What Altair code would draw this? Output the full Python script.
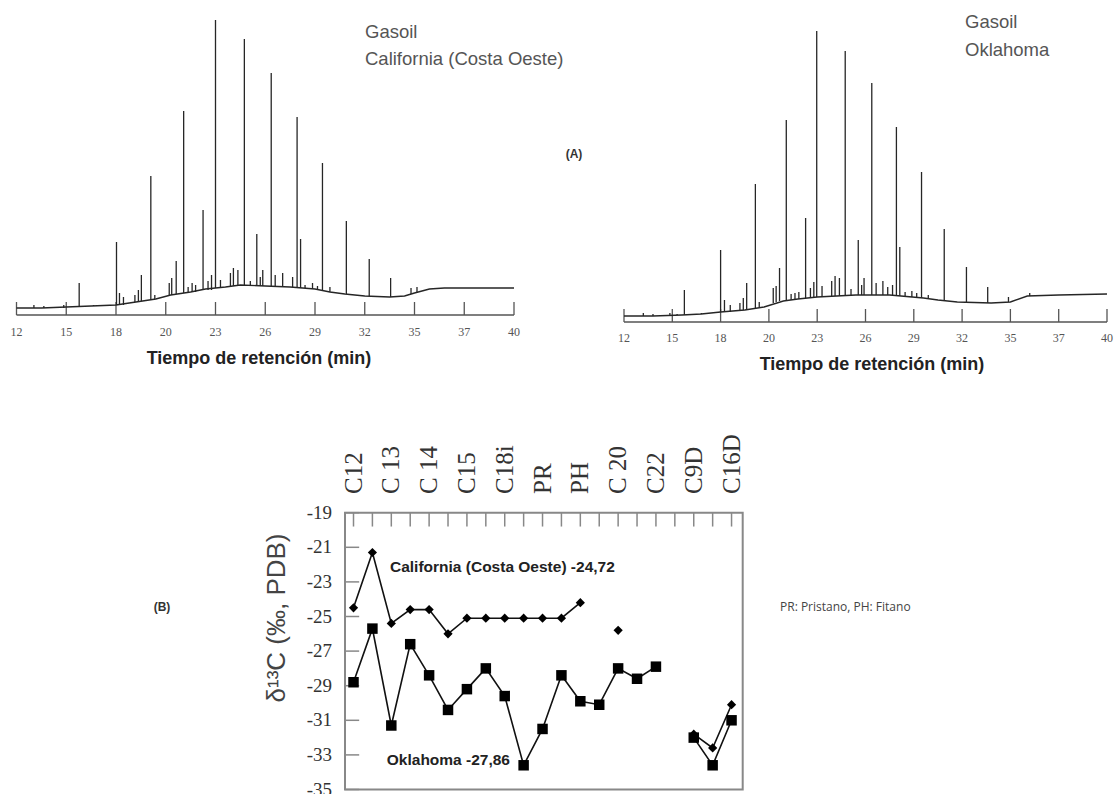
import altair as alt
import pandas as pd

W, H = 1116, 794

# ---------------- (A) chromatograms ----------------
rt_labels = ["12", "15", "18", "20", "23", "26", "29", "32", "35", "37", "40"]
rt_pos = [0, 1, 2, 3, 4, 5, 6, 7, 8, 9, 10]   # printed ticks are evenly spaced

# California gasoil: peak position (tick units), apex and foot (relative intensity)
ca_peak_pos = [0.35, 0.55, 0.95, 1.15, 1.26, 1.55, 2.01, 2.07, 2.15, 2.38, 2.45, 2.51, 2.70, 2.78,
               3.07, 3.12, 3.21, 3.36, 3.45, 3.53, 3.60, 3.75, 3.85, 3.92, 4.00, 4.10, 4.30, 4.36,
               4.45, 4.58, 4.70, 4.83, 4.90, 4.95, 5.12, 5.20, 5.35, 5.44, 5.55, 5.64, 5.71, 5.80,
               5.95, 6.05, 6.15, 6.30, 6.63, 7.09, 7.52, 7.93, 8.05]
ca_peak_top = [10, 9, 10, 9, 32, 10, 73, 22, 18, 20, 25, 40, 139, 20,
               32, 37, 54, 204, 28, 32, 30, 105, 34, 40, 295, 35, 42, 47,
               45, 276, 34, 81, 38, 45, 242, 40, 42, 28, 38, 198, 76, 30,
               32, 29, 152, 28, 94, 56, 37, 27, 28]
ca_peak_foot = [7, 7, 7, 8, 8, 9, 10, 10, 10, 13, 13, 14, 16, 16,
                20, 20, 21, 22, 22, 23, 23, 25, 25, 25, 27, 27, 28, 29,
                29, 30, 30, 29, 29, 29, 29, 29, 28, 28, 28, 27, 27, 27,
                26, 25, 25, 23, 21, 19, 18, 21, 22]
ca_base_pos = [0, 0.5, 1.0, 1.5, 2.0, 2.4, 2.8, 3.1, 3.5, 3.8, 4.2, 4.5, 5.0, 5.5, 6.0, 6.3, 6.6,
               7.0, 7.5, 7.8, 8.0, 8.3, 8.6, 9.0, 9.5, 10.0]
ca_base_val = [7, 7, 8, 9, 10, 13, 16, 20, 23, 26, 28, 30, 29, 28, 26, 23, 21,
               19, 18, 19, 22, 26, 27, 27, 27, 27]

# Oklahoma gasoil
ok_peak_pos = [0.4, 0.6, 0.95, 1.1, 1.25, 1.6, 2.0, 2.08, 2.2, 2.4, 2.47, 2.54, 2.72, 2.8,
               3.09, 3.15, 3.22, 3.36, 3.46, 3.54, 3.62, 3.76, 3.86, 3.93, 3.99, 4.1, 4.3, 4.37,
               4.46, 4.58, 4.7, 4.85, 4.92, 4.97, 5.13, 5.22, 5.36, 5.46, 5.56, 5.64, 5.71, 5.82,
               5.96, 6.06, 6.16, 6.3, 6.63, 7.09, 7.53, 7.96, 8.4]
ok_peak_top = [9, 8, 9, 8, 32, 9, 72, 22, 17, 19, 24, 39, 138, 20,
               34, 36, 54, 202, 28, 29, 30, 104, 34, 40, 291, 36, 41, 46,
               44, 271, 33, 82, 37, 44, 239, 39, 41, 35, 37, 195, 75, 30,
               31, 29, 150, 27, 93, 55, 35, 25, 29]
ok_peak_foot = [6, 6, 6, 7, 7, 8, 10, 10, 10, 12, 12, 12, 14, 15,
                19, 20, 21, 22, 22, 23, 23, 24, 24, 25, 25, 25, 26, 26,
                26, 27, 27, 27, 27, 27, 27, 27, 27, 27, 27, 26, 26, 26,
                25, 25, 24, 23, 22, 20, 19, 20, 26]
ok_base_pos = [0, 0.6, 1.2, 1.6, 2.0, 2.5, 2.9, 3.3, 3.6, 4.0, 4.8, 5.5, 6.2, 6.5, 6.9, 7.6,
               8.0, 8.35, 9.0, 10.0]
ok_base_val = [6, 6, 7, 8, 10, 12, 15, 21, 23, 25, 27, 27, 24, 22, 20, 19,
               20, 26, 27, 28]

# ---------------- (B) isotope profile ----------------
comp_labels = ["C12", "C 13", "C 14", "C15", "C18i", "PR", "PH", "C 20", "C22", "C9D", "C16D"]
comp_label_pos = [0, 2, 4, 6, 8, 10, 12, 14, 16, 18, 20]
comp_tick_pos = list(range(21))
d13c_ticks = [-19, -21, -23, -25, -27, -29, -31, -33, -35]
d13c_tick_labels = ["-19", "-21", "-23", "-25", "-27", "-29", "-31", "-33", "-35"]

ca_pos = [0, 1, 2, 3, 4, 5, 6, 7, 8, 9, 10, 11, 12, 14, 18, 19, 20]
ca_d13c = [-24.5, -21.3, -25.4, -24.6, -24.6, -26.0, -25.1, -25.1, -25.1, -25.1, -25.1, -25.1,
           -24.2, -25.8, -31.8, -32.6, -30.1]
ca_seg = [1] * 13 + [2] + [3] * 3

ok_pos = [0, 1, 2, 3, 4, 5, 6, 7, 8, 9, 10, 11, 12, 13, 14, 15, 16, 18, 19, 20]
ok_d13c = [-28.8, -25.7, -31.3, -26.6, -28.4, -30.4, -29.2, -28.0, -29.6, -33.6, -31.5, -28.4,
           -29.9, -30.1, -28.0, -28.6, -27.9, -32.0, -33.6, -31.0]
ok_seg = [1] * 17 + [2] * 3

SANS = "Liberation Sans"
SERIF = "Liberation Serif"
INK = "#262626"


def sc(domain, rng):
    return alt.Scale(domain=domain, range=rng, nice=False, zero=False)


def text_layer(txt, x, y, **mk):
    return alt.Chart(pd.DataFrame({"t": [txt]})).mark_text(**mk).encode(
        x=alt.value(x), y=alt.value(y), text="t:N")


def chromatogram(peak_pos, peak_top, peak_foot, base_pos, base_val, xr, yr, label_y):
    X = sc([0, 10], xr)
    Y = sc([0, 300], yr)
    peaks = pd.DataFrame({"pos": peak_pos, "top": peak_top, "foot": peak_foot})
    base = pd.DataFrame({"pos": base_pos, "val": base_val})
    ticks = pd.DataFrame({"pos": rt_pos, "lab": rt_labels})
    axis_df = pd.DataFrame({"a": [min(rt_pos)], "b": [max(rt_pos)]})
    layers = [
        alt.Chart(axis_df).mark_rule(color="#555", strokeWidth=1.3).encode(
            x=alt.X("a:Q", scale=X, axis=None), x2="b:Q",
            y=alt.Y(datum=0, scale=Y, axis=None)),
        alt.Chart(ticks).mark_rule(color="#555", strokeWidth=1.3).encode(
            x=alt.X("pos:Q", scale=X, axis=None),
            y=alt.Y(datum=0, scale=Y, axis=None), y2=alt.Y2(datum=13)),
        alt.Chart(ticks).mark_text(font=SERIF, fontSize=12, color="#555").encode(
            x=alt.X("pos:Q", scale=X, axis=None), y=alt.value(label_y), text="lab:N"),
        alt.Chart(base).mark_line(color=INK, strokeWidth=1.4).encode(
            x=alt.X("pos:Q", scale=X, axis=None), y=alt.Y("val:Q", scale=Y, axis=None)),
        alt.Chart(peaks).mark_rule(color=INK, strokeWidth=1.3).encode(
            x=alt.X("pos:Q", scale=X, axis=None),
            y=alt.Y("top:Q", scale=Y, axis=None), y2="foot:Q"),
    ]
    return layers


layers = []
layers += chromatogram(ca_peak_pos, ca_peak_top, ca_peak_foot, ca_base_pos, ca_base_val,
                       [16.5, 514], [315, 15], 332)
layers += chromatogram(ok_peak_pos, ok_peak_top, ok_peak_foot, ok_base_pos, ok_base_val,
                       [624, 1107], [322, 22], 338)

layers += [
    text_layer("Gasoil", 365, 32, font=SANS, fontSize=18.5, color="#555", align="left", baseline="middle"),
    text_layer("California (Costa Oeste)", 365, 59, font=SANS, fontSize=18.5, color="#555", align="left", baseline="middle"),
    text_layer("Gasoil", 965, 22, font=SANS, fontSize=18.5, color="#555", align="left", baseline="middle"),
    text_layer("Oklahoma", 965, 50, font=SANS, fontSize=18.5, color="#555", align="left", baseline="middle"),
    text_layer("Tiempo de retención (min)", 259, 359, font=SANS, fontSize=18, fontWeight="bold", color="#222", baseline="middle"),
    text_layer("Tiempo de retención (min)", 872, 365, font=SANS, fontSize=18, fontWeight="bold", color="#222", baseline="middle"),
    text_layer("(A)", 574, 154, font=SANS, fontSize=12, fontWeight="bold", color="#333", baseline="middle"),
    text_layer("(B)", 162, 607, font=SANS, fontSize=12, fontWeight="bold", color="#333", baseline="middle"),
    text_layer("PR: Pristano, PH: Fitano", 780, 607, font="Open Sans", fontSize=12, color="#444", align="left", baseline="middle"),
    text_layer("δ¹³C (‰, PDB)", 277, 618, font=SANS, fontSize=26, color="#444", angle=270, baseline="middle"),
]

# ---- panel (B)
BXD = [-0.45, 20.59]
BYD = [-35, -19]
BX = sc(BXD, [345, 742.7])
BY = sc(BYD, [789.5, 512.7])
one = pd.DataFrame({"a": [0]})
xt = pd.DataFrame({"pos": comp_tick_pos})
xl = pd.DataFrame({"pos": comp_label_pos, "lab": comp_labels})
yt = pd.DataFrame({"v": d13c_ticks, "lab": d13c_tick_labels})
ca_df = pd.DataFrame({"pos": ca_pos, "v": ca_d13c, "seg": ca_seg})
ok_df = pd.DataFrame({"pos": ok_pos, "v": ok_d13c, "seg": ok_seg})

layers += [
    alt.Chart(xt).mark_rule(color="#888", strokeWidth=1.5).encode(
        x=alt.X("pos:Q", scale=BX, axis=None),
        y=alt.Y(datum=BYD[1], scale=BY, axis=None), y2=alt.Y2(datum=BYD[1] - 0.8)),
    alt.Chart(yt).mark_rule(color="#888", strokeWidth=1.5).encode(
        y=alt.Y("v:Q", scale=BY, axis=None),
        x=alt.X(datum=BXD[0], scale=BX, axis=None), x2=alt.X2(datum=BXD[0] + 0.75)),
    alt.Chart(one).mark_rect(fillOpacity=0, stroke="#888", strokeWidth=2).encode(
        x=alt.X(datum=BXD[0], scale=BX, axis=None), x2=alt.X2(datum=BXD[1]),
        y=alt.Y(datum=BYD[0], scale=BY, axis=None), y2=alt.Y2(datum=BYD[1])),
    alt.Chart(xl).mark_text(font=SERIF, fontSize=25, color="#333", angle=270,
                            align="left", baseline="middle").encode(
        x=alt.X("pos:Q", scale=BX, axis=None), y=alt.value(494), text="lab:N"),
    alt.Chart(yt).mark_text(font=SERIF, fontSize=19, color="#333", align="right",
                            baseline="middle").encode(
        x=alt.value(332), y=alt.Y("v:Q", scale=BY, axis=None), text="lab:N"),
    alt.Chart(pd.DataFrame({"t": ["California (Costa Oeste) -24,72"], "pos": [1.93], "v": [-22.13]}))
    .mark_text(font=SANS, fontSize=15.5, fontWeight="bold", color="#222", align="left", baseline="middle")
    .encode(x=alt.X("pos:Q", scale=BX, axis=None), y=alt.Y("v:Q", scale=BY, axis=None), text="t:N"),
    alt.Chart(pd.DataFrame({"t": ["Oklahoma -27,86"], "pos": [1.76], "v": [-33.32]}))
    .mark_text(font=SANS, fontSize=15.5, fontWeight="bold", color="#222", align="left", baseline="middle")
    .encode(x=alt.X("pos:Q", scale=BX, axis=None), y=alt.Y("v:Q", scale=BY, axis=None), text="t:N"),
    alt.Chart(ca_df).mark_line(color="#111", strokeWidth=1.6).encode(
        x=alt.X("pos:Q", scale=BX, axis=None), y=alt.Y("v:Q", scale=BY, axis=None), detail="seg:N"),
    alt.Chart(ok_df).mark_line(color="#111", strokeWidth=1.6).encode(
        x=alt.X("pos:Q", scale=BX, axis=None), y=alt.Y("v:Q", scale=BY, axis=None), detail="seg:N"),
    alt.Chart(ca_df).mark_point(shape="diamond", filled=True, size=85, color="#000", opacity=1).encode(
        x=alt.X("pos:Q", scale=BX, axis=None), y=alt.Y("v:Q", scale=BY, axis=None)),
    alt.Chart(ok_df).mark_point(shape="square", filled=True, size=110, color="#000", opacity=1).encode(
        x=alt.X("pos:Q", scale=BX, axis=None), y=alt.Y("v:Q", scale=BY, axis=None)),
]

chart = alt.layer(*layers).resolve_scale(x="independent", y="independent").properties(
    width=W, height=H, autosize="none", padding=0, background="white"
).configure_view(stroke=None)

chart.save("out.html", embed_options={"renderer": "svg", "actions": False})
